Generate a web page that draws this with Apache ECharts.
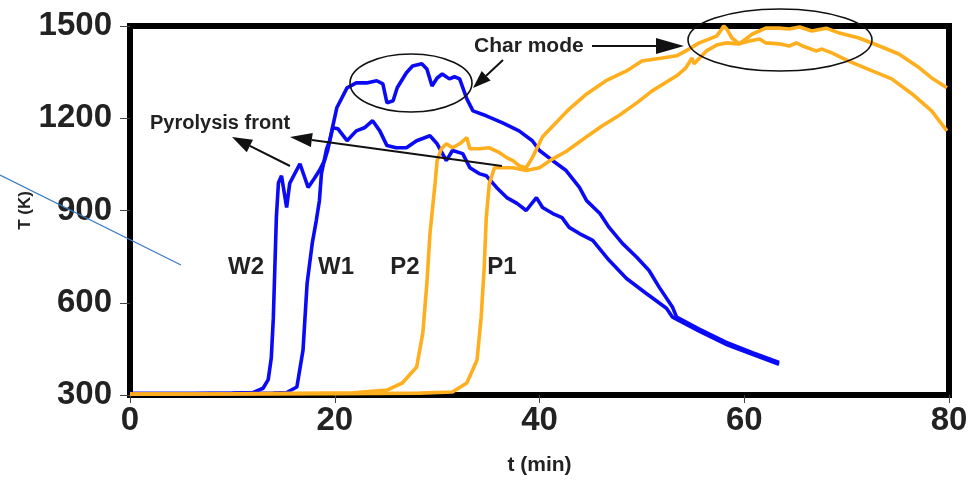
<!DOCTYPE html>
<html>
<head>
<meta charset="utf-8">
<script src="https://cdn.jsdelivr.net/npm/echarts@6/dist/echarts.min.js"></script>
<style>
html,body{margin:0;padding:0;background:#fff;}
#chart{width:972px;height:482px;}
</style>
</head>
<body>
<div id="chart"></div>
<script>
// ---- data (t in min, T in K) ----
const xTicks = [0, 20, 40, 60, 80];
const yTicks = [300, 600, 900, 1200, 1500];

const w2 = [[0,305],[6,305],[10,306],[12,308],[13,322],[13.5,350],[13.8,420],[14.0,550],[14.15,715],[14.3,880],[14.5,990],[14.8,1013],[15.3,910],[15.6,988],[16.6,1052],[17.4,975],[18.0,1004],[18.5,1030],[19.0,1062],[19.3,1095],[19.8,1169],[20.3,1166],[21.2,1127],[22.1,1159],[22.9,1169],[23.7,1192],[24.4,1159],[25.1,1111],[26.0,1104],[27.0,1104],[28.0,1127],[29.3,1143],[30.0,1117],[30.9,1062],[31.5,1095],[32.5,1085],[33.2,1039],[34.1,1020],[34.8,1013],[35.8,975],[36.8,942],[37.8,923],[38.7,900],[39.7,942],[40.3,910],[41.3,890],[42.2,877],[42.9,845],[43.9,825],[45.2,803],[46.8,738],[48.5,679],[50.4,631],[52.4,582],[53.0,553],[55.6,508],[58.2,465],[60.8,432],[63.4,400]];

const w1 = [[0,305],[10,305],[14,306],[15.3,308],[16.3,326],[16.9,446],[17.3,663],[17.8,793],[18.2,868],[18.5,932],[18.7,1020],[19.2,1100],[19.5,1127],[20.2,1234],[21.2,1299],[22.1,1315],[23.1,1315],[24.1,1322],[24.7,1312],[25.1,1250],[25.7,1257],[26.1,1299],[27.0,1348],[27.6,1370],[28.5,1377],[29.0,1360],[29.5,1305],[30.0,1331],[30.5,1344],[31.2,1328],[31.7,1335],[32.2,1328],[32.9,1263],[33.5,1224],[34.8,1208],[36.4,1185],[38.0,1159],[39.3,1127],[40.0,1095],[41.3,1062],[42.6,1030],[43.9,975],[44.6,932],[45.9,890],[46.8,845],[48.1,793],[49.5,748],[50.7,705],[51.7,650],[53.0,585],[53.4,553],[55.6,514],[58.2,472],[60.8,438],[63.4,406]];

const p2 = [[0,303],[10,304],[21.8,307],[25.1,316],[26.6,339],[28.0,391],[28.6,501],[29.0,663],[29.3,825],[29.8,988],[30.0,1062],[30.4,1100],[30.9,1117],[31.5,1104],[32.2,1117],[32.9,1137],[33.2,1101],[34.1,1101],[35.1,1104],[36.1,1088],[36.8,1072],[37.4,1062],[38.0,1046],[38.7,1039],[39.3,1072],[40.3,1140],[41.3,1175],[42.9,1230],[44.6,1279],[46.5,1322],[48.5,1354],[50.0,1386],[52.0,1396],[53.4,1403],[54.3,1419],[55.6,1445],[57.3,1467],[57.8,1490],[58.0,1500],[58.3,1490],[58.8,1461],[59.5,1442],[60.5,1451],[61.5,1458],[62.1,1445],[63.4,1442],[64.4,1435],[65.1,1445],[65.7,1435],[67.0,1419],[67.6,1425],[68.6,1412],[70.2,1386],[72.5,1354],[74.4,1328],[76.4,1279],[78.3,1224],[79.8,1159]];

const p1 = [[0,303],[20,304],[28.3,306],[31.5,310],[32.9,339],[33.9,414],[34.3,553],[34.6,715],[34.8,877],[35.1,988],[35.6,1039],[36.4,1039],[37.4,1039],[38.7,1030],[40.0,1039],[41.3,1068],[42.6,1092],[44.6,1140],[46.1,1175],[47.8,1210],[49.5,1250],[51.0,1289],[53.4,1338],[54.3,1364],[54.9,1396],[55.1,1377],[56.3,1419],[57.3,1438],[58.2,1445],[59.5,1442],[60.8,1474],[62.1,1493],[63.4,1493],[64.4,1490],[65.4,1497],[66.6,1484],[68.0,1493],[69.3,1477],[71.2,1461],[73.2,1435],[75.1,1409],[77.1,1364],[78.3,1331],[79.8,1299]];

const curveLabels = ['W2', 'W1', 'P2', 'P1'];

// ---- chart ----
const BLUE = '#0a0af5';
const ORANGE = '#ffae1e';
const FONT = '"Liberation Sans", Arial, sans-serif';

function arrow(x1, y1, x2, y2, len, w) {
  const dx = x2 - x1, dy = y2 - y1;
  const L = Math.sqrt(dx*dx + dy*dy);
  const ux = dx / L, uy = dy / L;
  const bx = x2 - ux * len, by = y2 - uy * len;
  const px = -uy * w / 2, py = ux * w / 2;
  return [
    {type:'line', shape:{x1:x1, y1:y1, x2:bx, y2:by}, style:{stroke:'#111', lineWidth:2}, z:100},
    {type:'polygon', shape:{points:[[x2,y2],[bx+px,by+py],[bx-px,by-py]]}, style:{fill:'#111'}, z:100}
  ];
}

function lineSeries(name, data, color) {
  return {
    name: name, type: 'line', data: data, showSymbol: false, symbol: 'none',
    lineStyle: {color: color, width: 3.6}, clip: false, z: 3
  };
}

function labelText(x, y, text, size) {
  return {type:'text', x:x, y:y, style:{text:text, fontFamily:FONT, fontWeight:'bold', fontSize:size, fill:'#222', align:'center', verticalAlign:'middle', textAlign:'center', textVerticalAlign:'middle'}, z:100};
}

const chart = echarts.init(document.getElementById('chart'), null, {renderer: 'canvas'});
const labelStyle = {fontFamily: FONT, fontWeight: 'bold', color: '#222'};

chart.setOption({
  animation: false,
  backgroundColor: '#fff',
  grid: {left: 130, right: 23, top: 26, bottom: 87, show: true, borderColor: '#000', borderWidth: 6, containLabel: false, outerBoundsMode: 'none'},
  xAxis: {
    type: 'value', min: xTicks[0], max: xTicks[xTicks.length-1], interval: 20,
    name: 't (min)', nameLocation: 'middle', nameGap: 60, nameMoveOverlap: false,
    nameTextStyle: Object.assign({fontSize: 21}, labelStyle),
    axisLine: {show: false},
    axisTick: {show: true, length: 8, lineStyle: {color: '#444', width: 1}},
    axisLabel: Object.assign({fontSize: 33, margin: 9, formatter: v => String(v)}, labelStyle),
    splitLine: {show: false}
  },
  yAxis: {
    type: 'value', min: yTicks[0], max: yTicks[yTicks.length-1], interval: 300,
    name: 'T (K)', nameLocation: 'middle', nameGap: 96, nameRotate: 90, nameMoveOverlap: false,
    nameTextStyle: Object.assign({fontSize: 17}, labelStyle),
    axisLine: {show: false},
    axisTick: {show: true, length: 10, lineStyle: {color: '#444', width: 1}},
    axisLabel: Object.assign({fontSize: 33, margin: 18, formatter: v => String(v)}, labelStyle),
    splitLine: {show: false}
  },
  series: [
    lineSeries('W2', w2, BLUE),
    lineSeries('W1', w1, BLUE),
    lineSeries('P2', p2, ORANGE),
    lineSeries('P1', p1, ORANGE)
  ],
  graphic: [].concat(
    [
      {type:'line', shape:{x1:0, y1:175, x2:181, y2:265}, style:{stroke:'#3c78c0', lineWidth:1.2}, z:100},
      {type:'ellipse', shape:{cx:411, cy:83, rx:61, ry:29}, style:{fill:'none', stroke:'#111', lineWidth:1.6}, z:100},
      {type:'ellipse', shape:{cx:780, cy:40, rx:92, ry:31}, style:{fill:'none', stroke:'#111', lineWidth:1.6}, z:100},
      {type:'text', x:150, y:123, style:{text:'Pyrolysis front', fontFamily:FONT, fontWeight:'bold', fontSize:20, fill:'#222', textVerticalAlign:'middle', verticalAlign:'middle'}, z:100},
      {type:'text', x:474, y:46, style:{text:'Char mode', fontFamily:FONT, fontWeight:'bold', fontSize:21, fill:'#222', textVerticalAlign:'middle', verticalAlign:'middle'}, z:100},
      labelText(246, 267, curveLabels[0], 24),
      labelText(336, 267, curveLabels[1], 24),
      labelText(405, 267, curveLabels[2], 24),
      labelText(502, 267, curveLabels[3], 24)
    ],
    arrow(290, 166, 232, 137, 20, 14),
    arrow(502, 166, 290, 137, 22, 14),
    arrow(592, 46, 684, 46, 28, 16),
    arrow(503, 60, 473, 88, 18, 13)
  )
});
</script>
</body>
</html>
